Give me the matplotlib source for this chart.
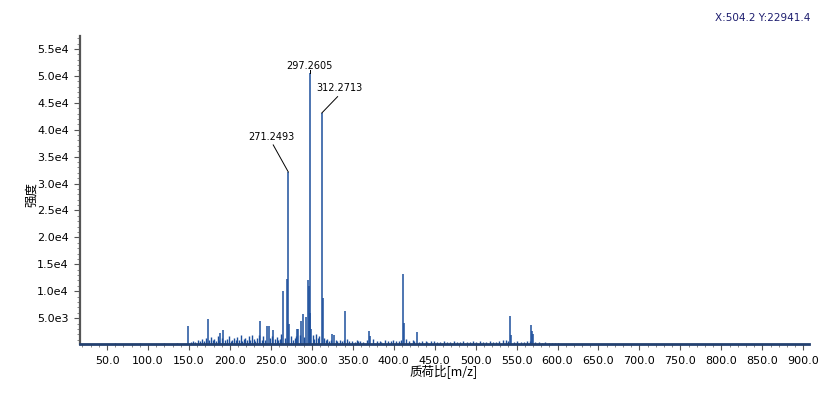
import matplotlib
matplotlib.use("Agg")
import matplotlib.pyplot as plt
from matplotlib.ticker import FixedLocator, MultipleLocator

# ---- data ----
major_mz = [149.2, 173.6, 188.0, 192.0, 236.8, 245.6, 247.7, 253.0, 264.8, 270.2, 271.2493,
            272.2, 282.3, 283.5, 286.3, 289.6, 292.9, 295.3, 296.2, 297.2605, 298.3, 299.2,
            312.2713, 313.3, 325.0, 327.5, 340.6, 370.2, 371.2, 411.8, 412.8, 428.8,
            542.4, 543.4, 568.0, 569.0, 570.0]
major_int = [3560, 4800, 2200, 2830, 4490, 3500, 3500, 2830, 9960, 12360, 32160,
             4000, 2950, 2950, 4430, 5780, 5290, 12000, 11000, 50540, 6000, 3000,
             43110, 8800, 2030, 1900, 6270, 2640, 1600, 13150, 4060, 2400,
             5400, 1800, 3750, 2700, 2000]

minor_mz = [60, 90, 120, 135, 152, 155, 158, 161, 163, 166, 168, 171, 175, 177, 179, 181, 183,
            185, 187, 190, 194, 196, 199, 201, 203, 205, 207, 209, 211, 213, 215, 217, 219,
            221, 223, 225, 227, 229, 231, 233, 235, 239, 241, 243, 249, 251, 255, 257, 259,
            261, 263, 267, 275, 277, 279, 281, 285, 291, 301, 303, 305, 307, 309, 315, 317,
            319, 321, 323, 329, 331, 335, 337, 339, 343, 345, 349, 353, 355, 357, 359, 363,
            367, 375, 379, 383, 385, 389, 393, 397, 399, 403, 407, 409, 415, 419, 423, 425,
            431, 435, 439, 441, 445, 449, 453, 457, 461, 465, 469, 473, 477, 481, 485, 489,
            493, 497, 501, 505, 509, 513, 517, 521, 525, 529, 533, 537, 539, 547, 551, 555,
            559, 563, 566, 573, 577, 581, 585, 589, 593, 597, 601]
minor_int = [300, 320, 350, 300, 600, 800, 500, 1000, 700, 1100, 800, 1300, 1000, 1500, 900,
             1200, 800, 1700, 1000, 1400, 900, 1100, 1600, 800, 1000, 1300, 900, 1500, 1000,
             1800, 800, 1100, 1300, 900, 1600, 1000, 1900, 1100, 800, 1400, 1800, 1000, 1600,
             900, 1300, 1700, 1100, 1500, 1000, 1200, 2000, 1400, 1600, 1000, 1300, 1700, 1900,
             1500, 1800, 1100, 2000, 1400, 1600, 1300, 1000, 1100, 800, 1000, 900, 700, 1000,
             800, 900, 1100, 700, 800, 600, 1000, 700, 800, 600, 900, 1100, 700, 800, 600,
             900, 700, 800, 1000, 700, 800, 900, 1200, 800, 900, 700, 600, 800, 700, 600,
             700, 800, 600, 500, 700, 600, 500, 700, 600, 500, 700, 600, 500, 800, 600, 700,
             500, 600, 700, 600, 500, 800, 900, 1000, 700, 600, 800, 600, 500, 700, 800, 600,
             500, 450, 500, 450, 400, 300, 300]

x_ticks = [50, 100, 150, 200, 250, 300, 350, 400, 450, 500, 550, 600, 650, 700, 750, 800, 850, 900]
x_labels = ["%.1f" % v for v in x_ticks]
y_ticks = [5000, 10000, 15000, 20000, 25000, 30000, 35000, 40000, 45000, 50000, 55000]
y_labels = ["5.0e3", "1.0e4", "1.5e4", "2.0e4", "2.5e4", "3.0e4", "3.5e4", "4.0e4",
            "4.5e4", "5.0e4", "5.5e4"]

annot = [("271.2493", 271.2493, 32160, 250.1, 38660, 252.9, 37170),
         ("297.2605", 297.2605, 50540, 297.7, 51900, 297.2605, 51000),
         ("312.2713", 312.2713, 43110, 334.3, 47750, 331.5, 46140)]

# ---- figure ----
W, H = 834, 393
fig = plt.figure(figsize=(W / 100, H / 100), dpi=100)
ax = fig.add_axes([80 / W, 1 - 344 / H, (809 - 80) / W, (344 - 36) / H])

col = "#1d4f9c"
ax.vlines(minor_mz, 0, minor_int, color=col, lw=1.0)
ax.vlines(major_mz, 0, major_int, color=col, lw=1.1)

ax.set_xlim(17, 907)
ax.set_ylim(200, 57400)

for sp in ["top", "right"]:
    ax.spines[sp].set_visible(False)
ax.spines["left"].set_color("#555555")
ax.spines["left"].set_linewidth(1.6)
ax.spines["bottom"].set_color("#23406f")
ax.spines["bottom"].set_linewidth(2.0)

ax.xaxis.set_major_locator(FixedLocator(x_ticks))
ax.set_xticklabels(x_labels, fontsize=8)
ax.xaxis.set_minor_locator(MultipleLocator(10))
ax.yaxis.set_major_locator(FixedLocator(y_ticks))
ax.set_yticklabels(y_labels, fontsize=8)
ax.yaxis.set_minor_locator(MultipleLocator(1000))
ax.tick_params(axis="both", which="major", direction="out", length=4, width=0.8,
               color="#555555", pad=4)
ax.tick_params(axis="both", which="minor", direction="out", length=2.5, width=0.6,
               color="#777777")
ax.tick_params(axis="x", which="major", pad=5)

for txt, px, py, tx, ty, lx, ly in annot:
    ax.plot([px, lx], [py, ly], color="black", lw=0.7)
    ax.text(tx, ty, txt, fontsize=7, ha="center", va="center", color="black")

fig.text(444 / W, 1 - 372 / H, "质荷比[m/z]", ha="center", va="center", fontsize=9,
         family=["Noto Sans CJK SC", "DejaVu Sans"])
fig.text(32 / W, 1 - 194 / H, "强度", ha="center", va="center", fontsize=9,
         rotation=90, family=["Noto Sans CJK SC", "DejaVu Sans"])
fig.text(763 / W, 1 - 18 / H, "X:504.2 Y:22941.4", ha="center", va="center",
         fontsize=7.5, color="#1c1c6e")

fig.savefig("out.png", dpi=100)
